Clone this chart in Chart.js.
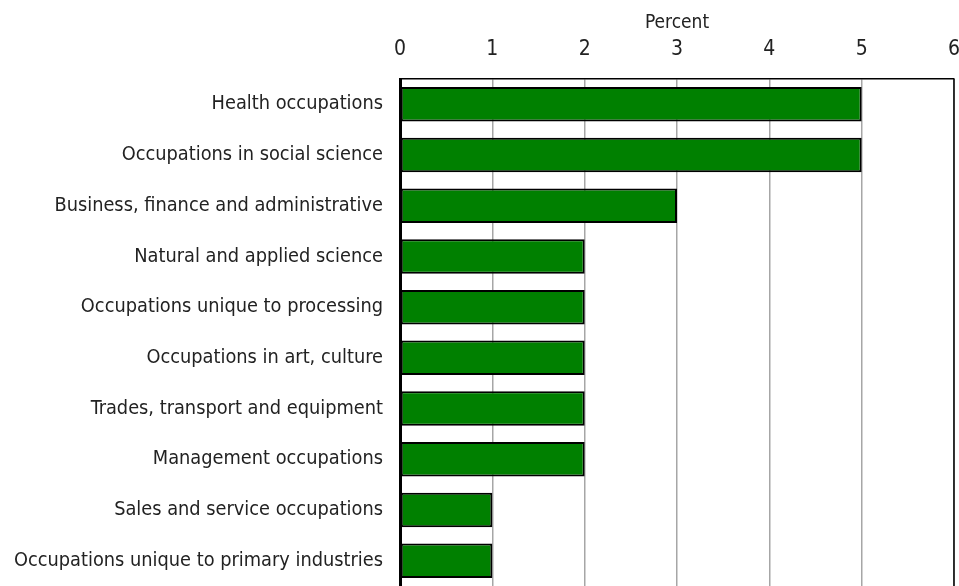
<!DOCTYPE html>
<html>
<head>
  <title>Occupations chart</title>
  <script src="https://cdn.jsdelivr.net/npm/chart.js"></script>
  <style>
    html, body { margin: 0; padding: 0; background: #fff; overflow: hidden; }
  </style>
</head>
<body>
  <canvas id="myChart" width="959" height="586"></canvas>

  <script>
    // categories, top to bottom
    const categories = [
      'Health occupations',
      'Occupations in social science',
      'Business, finance and administrative',
      'Natural and applied science',
      'Occupations unique to processing',
      'Occupations in art, culture',
      'Trades, transport and equipment',
      'Management occupations',
      'Sales and service occupations',
      'Occupations unique to primary industries'
    ];
    const percentValues = [5, 5, 3, 2, 2, 2, 2, 2, 1, 1];
    const axisTitle = 'Percent';
    const xMin = 0;
    const xMax = 6;

    const fontFamily = "'Liberation Sans Narrow', 'DejaVu Sans Condensed', sans-serif";

    // right side of the frame
    const frameRight = {
      id: 'frameRight',
      afterDraw(chart) {
        const a = chart.chartArea;
        const ctx = chart.ctx;
        ctx.save();
        ctx.strokeStyle = '#000';
        ctx.lineWidth = 1.5;
        ctx.beginPath();
        ctx.moveTo(a.right, a.top);
        ctx.lineTo(a.right, a.bottom);
        ctx.stroke();
        ctx.restore();
      }
    };

    var ctx = document.getElementById('myChart').getContext('2d');
    var myChart = new Chart(ctx, {
      type: 'bar',
      data: {
        labels: categories,
        datasets: [{
          label: axisTitle,
          data: percentValues,
          backgroundColor: '#008000',
          borderColor: '#000',
          borderWidth: 2,
          borderSkipped: false,
          barPercentage: 0.68,
          categoryPercentage: 1
        }]
      },
      options: {
        indexAxis: 'y',
        responsive: false,
        animation: false,
        layout: { padding: { left: 0, right: 5, top: 0, bottom: 0 } },
        plugins: {
          legend: { display: false },
          tooltip: { enabled: false }
        },
        scales: {
          x: {
            position: 'top',
            min: xMin,
            max: xMax,
            ticks: {
              stepSize: 1,
              color: '#222',
              padding: 17,
              font: { family: fontFamily, size: 21 }
            },
            grid: { color: '#a6a6a6', lineWidth: 1.5, drawTicks: false },
            border: { color: '#000', width: 1.5 },
            title: {
              display: true,
              text: axisTitle,
              color: '#222',
              padding: { top: 12, bottom: 0 },
              font: { family: fontFamily, size: 19 }
            },
            afterFit(scale) {
              scale.height = 79;
              scale.paddingLeft = 0;
              scale.paddingRight = 0;
            }
          },
          y: {
            ticks: {
              color: '#222',
              padding: 9,
              font: { family: fontFamily, size: 19.8 }
            },
            grid: { display: false },
            border: { color: '#000', width: 3 },
            afterFit(scale) {
              scale.width = 400;
              scale.paddingTop = 0;
              scale.paddingBottom = 0;
            }
          }
        }
      },
      plugins: [frameRight]
    });
  </script>
</body>
</html>
